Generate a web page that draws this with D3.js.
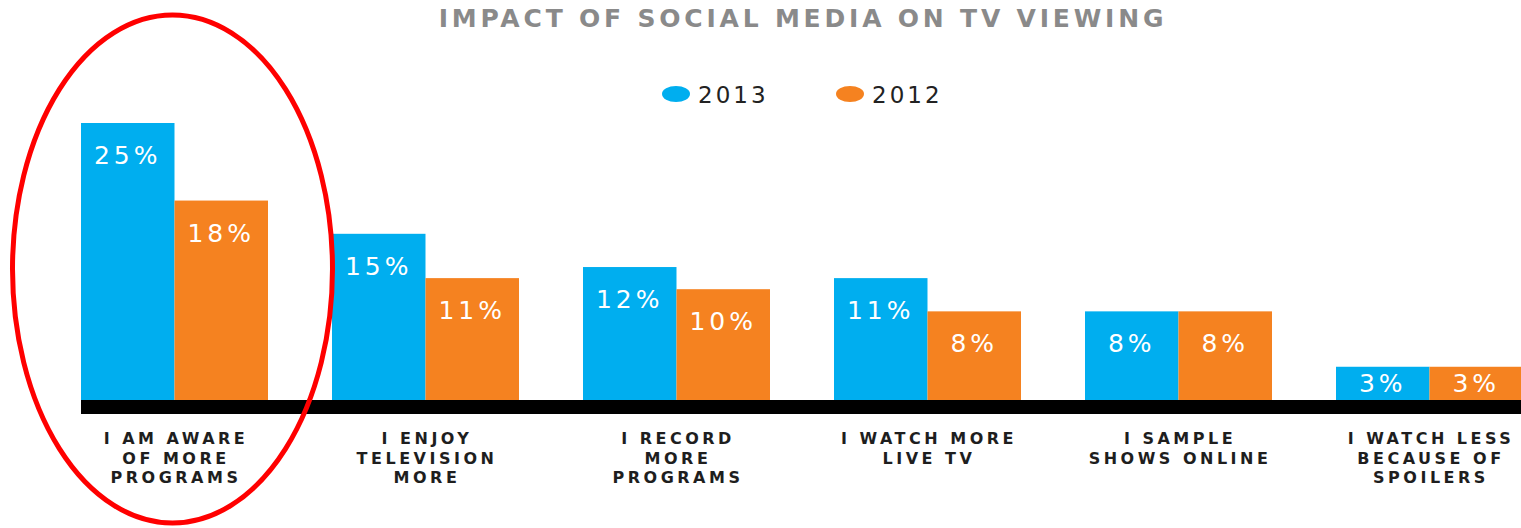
<!DOCTYPE html>
<meta charset="utf-8">
<style>
body { margin: 0; background: #fff; }
svg { display: block; }
text { font-family: "DejaVu Sans", sans-serif; }
</style>
<body>
<script src="https://d3js.org/d3.v7.min.js"></script>
<script>

// chart data
var categories = ["aware", "enjoy", "record", "live", "sample", "spoilers"];
var categoryLines = [
  ["I AM AWARE", "OF MORE", "PROGRAMS"],
  ["I ENJOY", "TELEVISION", "MORE"],
  ["I RECORD", "MORE", "PROGRAMS"],
  ["I WATCH MORE", "LIVE TV"],
  ["I SAMPLE", "SHOWS ONLINE"],
  ["I WATCH LESS", "BECAUSE OF", "SPOILERS"]
];
var years = ["2013", "2012"];
var values2013 = [25, 15, 12, 11, 8, 3];
var values2012 = [18, 11, 10, 8, 8, 3];
var colors = ["#00aeef", "#f58220"];

var width = 1521, height = 528;

var svg = d3.select("body").append("svg")
    .attr("width", width)
    .attr("height", height);

// group + series scales
var x0 = d3.scaleBand()
    .domain(categories)
    .range([81, 81 + 251 * (6 - 0.255)])
    .paddingInner(0.255)
    .paddingOuter(0);
var x1 = d3.scaleBand()
    .domain(years)
    .range([0, x0.bandwidth()]);
var y = d3.scaleLinear()
    .domain([0, 25])
    .range([400, 123]);
var color = d3.scaleOrdinal().domain(years).range(colors);

// title
svg.append("text")
    .attr("x", 803)
    .attr("y", 27)
    .attr("text-anchor", "middle")
    .style("font-size", "25px")
    .style("font-weight", "bold")
    .style("letter-spacing", "3.8px")
    .style("fill", "#8a8a8a")
    .text("IMPACT OF SOCIAL MEDIA ON TV VIEWING");

// legend
var legendX = [676, 850];
var legend = svg.selectAll(".legend")
    .data(years)
  .enter().append("g")
    .attr("class", "legend")
    .attr("transform", function(d, i) { return "translate(" + legendX[i] + ",94)"; });
legend.append("ellipse")
    .attr("rx", 14)
    .attr("ry", 8)
    .style("fill", function(d) { return color(d); });
legend.append("text")
    .attr("x", 22)
    .attr("y", 8.5)
    .style("font-size", "23px")
    .style("letter-spacing", "3px")
    .style("fill", "#222")
    .text(function(d) { return d; });

// bars
var rows = categories.map(function(c, i) {
  return { cat: c, vals: [
    { year: "2013", value: values2013[i] },
    { year: "2012", value: values2012[i] }
  ]};
});

var group = svg.selectAll(".group")
    .data(rows)
  .enter().append("g")
    .attr("class", "group")
    .attr("transform", function(d) { return "translate(" + x0(d.cat) + ",0)"; });

group.selectAll("rect")
    .data(function(d) { return d.vals; })
  .enter().append("rect")
    .attr("x", function(d) { return x1(d.year); })
    .attr("y", function(d) { return y(d.value); })
    .attr("width", x1.bandwidth())
    .attr("height", function(d) { return y(0) - y(d.value); })
    .style("fill", function(d) { return color(d.year); });

group.selectAll(".val")
    .data(function(d) { return d.vals; })
  .enter().append("text")
    .attr("class", "val")
    .attr("x", function(d) { return x1(d.year) + x1.bandwidth() / 2; })
    .attr("y", function(d) { return y(d.value) + Math.min(32, (y(0) - y(d.value)) / 2); })
    .attr("dy", "0.36em")
    .attr("text-anchor", "middle")
    .style("font-size", "25px")
    .style("letter-spacing", "4px")
    .style("fill", "#fff")
    .text(function(d) { return d.value + "%"; });

// thick baseline
svg.append("rect")
    .attr("x", 81)
    .attr("y", y(0))
    .attr("width", width - 81)
    .attr("height", 14)
    .style("fill", "#000");

// category labels
var labels = svg.selectAll(".cat")
    .data(categories)
  .enter().append("text")
    .attr("class", "cat")
    .attr("text-anchor", "middle")
    .style("font-size", "16px")
    .style("font-weight", "bold")
    .style("letter-spacing", "3.5px")
    .style("fill", "#1e1e1e");
labels.selectAll("tspan")
    .data(function(d, i) {
      return categoryLines[i].map(function(l) { return { cx: x0(d) + x0.bandwidth() / 2 + 1.5, line: l }; });
    })
  .enter().append("tspan")
    .attr("x", function(d) { return d.cx; })
    .attr("y", function(d, i) { return 444 + i * 19.5; })
    .text(function(d) { return d.line; });

// red highlight ellipse around the first group
svg.append("ellipse")
    .attr("cx", x0(categories[0]) + x0.bandwidth() / 2 - 2)
    .attr("cy", 269)
    .attr("rx", 160)
    .attr("ry", 254)
    .style("fill", "none")
    .style("stroke", "#f00")
    .style("stroke-width", 5);

</script>
